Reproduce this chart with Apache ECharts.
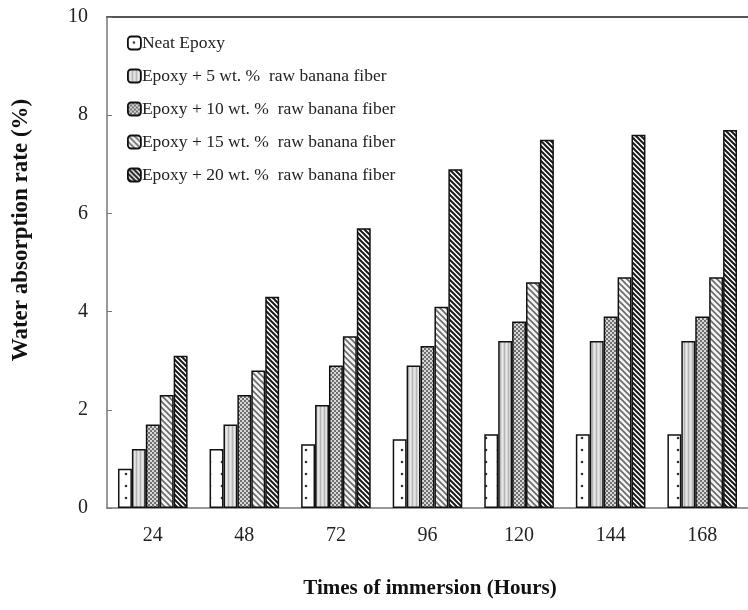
<!DOCTYPE html>
<html><head><meta charset="utf-8">
<script src="https://cdn.jsdelivr.net/npm/echarts@6/dist/echarts.min.js"></script>
<style>html,body{margin:0;padding:0;background:#fff}#c{width:748px;height:610px}</style>
</head><body><div id="c"></div>
<script>
const categories = ['24','48','72','96','120','144','168'];
const seriesNames = ['Neat Epoxy','Epoxy + 5 wt. %  raw banana fiber','Epoxy + 10 wt. %  raw banana fiber','Epoxy + 15 wt. %  raw banana fiber','Epoxy + 20 wt. %  raw banana fiber'];
const neatEpoxy = [0.8, 1.2, 1.3, 1.4, 1.5, 1.5, 1.5];
const fiber5 = [1.2, 1.7, 2.1, 2.9, 3.4, 3.4, 3.4];
const fiber10 = [1.7, 2.3, 2.9, 3.3, 3.8, 3.9, 3.9];
const fiber15 = [2.3, 2.8, 3.5, 4.1, 4.6, 4.7, 4.7];
const fiber20 = [3.1, 4.3, 5.7, 6.9, 7.5, 7.6, 7.7];
const yTicks = [0, 2, 4, 6, 8, 10];

function tile(w, h, draw) {
  const c = document.createElement('canvas'); c.width = w; c.height = h;
  const g = c.getContext('2d'); draw(g, w, h); return c;
}
const pDots = tile(12, 12, (g, w, h) => { g.fillStyle = '#fff'; g.fillRect(0,0,w,h); g.fillStyle = '#333'; g.beginPath(); g.arc(6, 6, 1.3, 0, Math.PI*2); g.fill(); });
const pVert = tile(4, 4, (g, w, h) => { g.fillStyle = '#d6d6d6'; g.fillRect(0,0,w,h); g.fillStyle = '#b4b4b4'; g.fillRect(0,0,1,h); g.fillStyle='#e8e8e8'; g.fillRect(2,0,1,h); });
const pCheck = tile(4, 4, (g, w, h) => { g.fillStyle = '#d8d8d8'; g.fillRect(0,0,w,h); g.fillStyle = '#707070'; g.fillRect(0,0,2,2); g.fillRect(2,2,2,2); });
function diag(size, bg, fg, lw) {
  return tile(size, size, (g, w, h) => {
    g.fillStyle = bg; g.fillRect(0,0,w,h); g.strokeStyle = fg; g.lineWidth = lw;
    g.beginPath();
    g.moveTo(-1, -1); g.lineTo(w+1, h+1);
    g.moveTo(-1 - w, -1); g.lineTo(1, h+1);
    g.moveTo(w - 1, -1); g.lineTo(2*w+1, h+1);
    g.stroke();
  });
}
const pDiagLight = diag(6, '#f4f4f4', '#6a6a6a', 1.6);
const pDiagDark = diag(5, '#ffffff', '#1a1a1a', 2.0);
const patterns = [pDots, pVert, pCheck, pDiagLight, pDiagDark];
const dataSets = [neatEpoxy, fiber5, fiber10, fiber15, fiber20];

const font = '"Liberation Serif", "Times New Roman", serif';
const chart = echarts.init(document.getElementById('c'), null, {renderer: 'canvas'});
chart.setOption({
  animation: false,
  backgroundColor: '#fff',
  grid: {left: 107, top: 17, bottom: 102, width: 651},
  legend: {
    orient: 'vertical', left: 122, top: 28, itemGap: 13, itemWidth: 13, itemHeight: 13,
    textStyle: {fontFamily: font, fontSize: 17.5, lineHeight: 20, color: '#222', padding: [0,0,0,-4]},
    itemStyle: {borderColor: '#111', borderWidth: 1.8},
    data: seriesNames
  },
  xAxis: [{
    type: 'category', data: categories,
    axisLine: {lineStyle: {color: '#777', width: 1.5}},
    axisTick: {inside: true, length: 6, lineStyle: {color: '#777'}},
    axisLabel: {fontFamily: font, fontSize: 20, color: '#222', margin: 18}
  }, {
    type: 'category', data: categories, position: 'top',
    axisLine: {lineStyle: {color: '#555', width: 2}},
    axisTick: {show: false}, axisLabel: {show: false}
  }],
  yAxis: {
    type: 'value', min: 0, max: 10, interval: 2,
    axisLine: {show: true, lineStyle: {color: '#777', width: 1.5}},
    axisTick: {show: true, inside: true, length: 5, lineStyle: {color: '#777'}},
    splitLine: {show: false},
    axisLabel: {fontFamily: font, fontSize: 20, color: '#222', margin: 19,
      formatter: v => yTicks.includes(v) ? String(v) : ''}
  },
  graphic: [
    {type: 'text', rotation: Math.PI/2, x: 21, y: 230,
     style: {text: 'Water absorption rate (%)', fontFamily: font, fontSize: 23, fontWeight: 'bold', fill: '#111', align: 'center', verticalAlign: 'middle'}},
    {type: 'text', x: 430, y: 589,
     style: {text: 'Times of immersion (Hours)', fontFamily: font, fontSize: 21, fontWeight: 'bold', fill: '#111', align: 'center', verticalAlign: 'middle'}}
  ],
  series: dataSets.map((d, i) => ({
    name: seriesNames[i], type: 'bar', data: d,
    barGap: '0%', barCategoryGap: '24%',
    itemStyle: {color: {image: patterns[i], repeat: 'repeat'}, borderColor: '#111', borderWidth: 1.5}
  }))
});
</script></body></html>
